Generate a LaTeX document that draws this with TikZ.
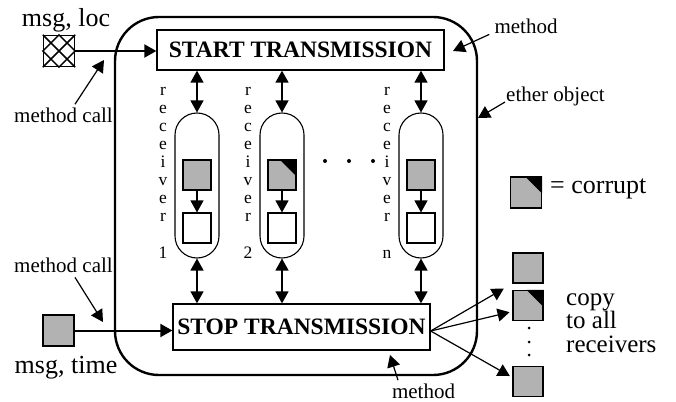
\documentclass[tikz,border=0pt]{standalone}
\usepackage{fontspec}
\setmainfont{Liberation Serif}
\usepackage{tikz}
\usetikzlibrary{arrows.meta,positioning}

\begin{document}
\begin{tikzpicture}
[x=1pt,y=-1pt,>={Triangle[length=12pt,width=13pt]}]
\tikzset{
	ether/.style = {draw, line width=2.4pt, rounded corners=44pt, minimum width=362pt, minimum height=358pt, inner sep=0},
	method/.style = {draw, line width=1.3pt, inner sep=0, font=\fontsize{23.5}{24}\selectfont\bfseries},
	capsule/.style = {draw, line width=1.1pt, rounded corners=22pt, minimum width=44pt, minimum height=145pt, inner sep=0},
	clean/.style = {draw, line width=1.1pt, fill=gray!60, minimum width=28pt, minimum height=30pt, inner sep=0},
	buffer/.style = {draw, line width=1.1pt, fill=white, minimum width=28pt, minimum height=30pt, inner sep=0},
	big/.style = {font=\fontsize{26}{24}\selectfont, inner sep=0},
	small/.style = {font=\fontsize{21}{22}\selectfont, inner sep=0},
	word/.style = {font=\fontsize{17.5}{18}\selectfont, inner sep=0, align=center},
	call/.style = {->, line width=2pt},
	link/.style = {<->, line width=1.3pt},
	pointer/.style = {->, line width=1.2pt}
}
\useasboundingbox (0,0) rectangle (676,401);

\node[ether] (ether) at (296,196) {};
\node[method, minimum width=287pt, minimum height=40pt] (start) at (300.5,50) {START TRANSMISSION};
\node[method, minimum width=257pt, minimum height=46pt] (stop) at (301.5,327) {STOP TRANSMISSION};

\foreach \i/\x/\lab in {1/197/1, 2/282/2, 3/421/n}{
	\node[capsule] (rcv\i) at (\x,185.5) {};
	\node[clean] (in\i) at (\x,175) {};
	\node[buffer] (out\i) at (\x,228) {};
	\draw[pointer] (in\i) -- (out\i);
	\draw[link] (start.south -| rcv\i.north) -- (rcv\i);
	\draw[link] (rcv\i) -- (stop.north -| rcv\i.south);
	\node[word, anchor=north] (txt\i) at (\x-34,87) {r\\e\\c\\e\\i\\v\\e\\r};
	\node[word, anchor=base] (num\i) at (\x-34,258) {\lab};
}
\foreach \x in {325,349,373}
	\fill (\x,161) circle (2pt);

\node[big, anchor=base] (locl) at (66,27) {msg, loc};
\node[draw, line width=1.3pt, minimum size=31pt, inner sep=0] (mloc) at (59,51) {};
\draw[line width=1.5pt] (mloc.north west) -- (mloc.south east) (mloc.north east) -- (mloc.south west)
	(mloc.north) -- (mloc.east) -- (mloc.south) -- (mloc.west) -- cycle;
\draw[call] (mloc) -- (start.west |- mloc);

\node[clean, minimum width=31pt, minimum height=31pt] (mtime) at (58.5,330.5) {};
\node[big, anchor=base] (timel) at (66,373) {msg, time};
\draw[call] (mtime) -- (stop.west |- mtime);

\node[small, anchor=base] (call1) at (63.5,122) {method call};
\coordinate (call1tip) at (104,60);
\draw[pointer] ([shift={(11.5pt,3pt)}]call1.north) -- (call1tip);

\node[small, anchor=base] (call2) at (63.5,272) {method call};
\coordinate (call2tip) at (103,322);
\draw[pointer] ([shift={(11.5pt,-5pt)}]call2.south) -- (call2tip);

\node[small, anchor=base] (meth1) at (526,34) {method};
\coordinate (meth1tip) at (453,51);
\draw[pointer] ([xshift=-5pt]meth1.south west) -- (meth1tip);

\node[small, anchor=base] (etherl) at (555.5,102) {ether object};
\coordinate (ethertip) at (478,118);
\draw[pointer] ([xshift=-1pt]etherl.base west) -- (ethertip);

\node[small, anchor=base] (meth2) at (423.5,398) {method};
\coordinate (meth2tip) at (390,355);
\draw[pointer] ([shift={(-25.5pt,3pt)}]meth2.north) -- (meth2tip);

\node[clean, minimum width=31pt, minimum height=31pt] (legend) at (526,192.5) {};
\node[big, anchor=base west] (legendl) at (550,193) {= corrupt};

\node[clean, minimum width=30pt] (copy1) at (528,268) {};
\node[clean, minimum width=30pt] (copy2) at (528,305.5) {};
\node[clean, minimum width=30pt] (copy3) at (528,381.5) {};
\foreach \y in {328,342,355}
	\fill (529,\y) circle (1.5pt);
\draw[pointer, shorten >=10pt] ([yshift=-4pt]stop.east) -- (copy1.south west);
\draw[pointer, shorten >=3pt] ([yshift=-4pt]stop.east) -- ([yshift=-6pt]copy2.west);
\draw[pointer, shorten >=3pt] ([yshift=-4pt]stop.east) -- ([yshift=4pt]copy3.west);
\node[big, align=left, anchor=north west, font=\fontsize{25}{23.5}\selectfont] (copyl) at (566,293.5) {copy\\to all\\receivers};

\foreach \n in {in2,legend,copy2}
	\fill (\n.north east) -- ([xshift=-17pt]\n.north east) -- ([yshift=-17pt]\n.north east) -- cycle;
\end{tikzpicture}
\end{document}
